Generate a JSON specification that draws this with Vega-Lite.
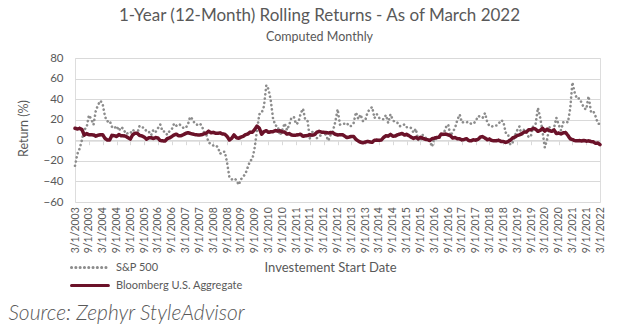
{
"$schema": "https://vega.github.io/schema/vega-lite/v6.json",
"width": 525, "height": 144,
"autosize": {"type": "none"},
"padding": {"left": 75, "top": 58, "right": 24, "bottom": 124},
"background": "white",
"title": {"text": "1-Year (12-Month) Rolling Returns - As of March 2022", "subtitle": "Computed Monthly", "anchor": "middle", "frame": "group", "font": "Lato", "fontSize": 17, "fontWeight": "normal", "color": "#595959", "subtitleFont": "Lato", "subtitleFontSize": 12.5, "subtitleColor": "#595959", "subtitlePadding": 6, "offset": 8, "dx": -18},
"datasets": {
"sp": [
{"date":"2003-03-01","ret":-24.8},{"date":"2003-04-01","ret":-13.3},{"date":"2003-05-01","ret":-8.1},{"date":"2003-06-01","ret":0.3},{"date":"2003-07-01","ret":10.6},{"date":"2003-08-01","ret":12.1},{"date":"2003-09-01","ret":24.4},{"date":"2003-10-01","ret":20.8},{"date":"2003-11-01","ret":15.1},{"date":"2003-12-01","ret":28.7},
{"date":"2004-01-01","ret":34.6},{"date":"2004-02-01","ret":38.5},{"date":"2004-03-01","ret":35.1},{"date":"2004-04-01","ret":22.9},{"date":"2004-05-01","ret":18.3},{"date":"2004-06-01","ret":19.1},{"date":"2004-07-01","ret":13.2},{"date":"2004-08-01","ret":11.5},{"date":"2004-09-01","ret":13.9},{"date":"2004-10-01","ret":9.4},{"date":"2004-11-01","ret":12.9},{"date":"2004-12-01","ret":10.9},
{"date":"2005-01-01","ret":6.2},{"date":"2005-02-01","ret":7.0},{"date":"2005-03-01","ret":6.7},{"date":"2005-04-01","ret":10.4},{"date":"2005-05-01","ret":8.2},{"date":"2005-06-01","ret":6.3},{"date":"2005-07-01","ret":14.0},{"date":"2005-08-01","ret":12.6},{"date":"2005-09-01","ret":12.2},{"date":"2005-10-01","ret":8.7},{"date":"2005-11-01","ret":8.4},{"date":"2005-12-01","ret":4.9},
{"date":"2006-01-01","ret":10.4},{"date":"2006-02-01","ret":8.4},{"date":"2006-03-01","ret":11.7},{"date":"2006-04-01","ret":15.4},{"date":"2006-05-01","ret":8.6},{"date":"2006-06-01","ret":8.6},{"date":"2006-07-01","ret":5.4},{"date":"2006-08-01","ret":8.9},{"date":"2006-09-01","ret":10.8},{"date":"2006-10-01","ret":16.3},{"date":"2006-11-01","ret":14.2},{"date":"2006-12-01","ret":15.8},
{"date":"2007-01-01","ret":14.5},{"date":"2007-02-01","ret":12.0},{"date":"2007-03-01","ret":11.8},{"date":"2007-04-01","ret":15.2},{"date":"2007-05-01","ret":22.8},{"date":"2007-06-01","ret":20.6},{"date":"2007-07-01","ret":16.1},{"date":"2007-08-01","ret":15.1},{"date":"2007-09-01","ret":16.4},{"date":"2007-10-01","ret":14.6},{"date":"2007-11-01","ret":7.7},{"date":"2007-12-01","ret":5.5},
{"date":"2008-01-01","ret":-2.3},{"date":"2008-02-01","ret":-3.6},{"date":"2008-03-01","ret":-5.1},{"date":"2008-04-01","ret":-4.7},{"date":"2008-05-01","ret":-6.7},{"date":"2008-06-01","ret":-13.1},{"date":"2008-07-01","ret":-11.1},{"date":"2008-08-01","ret":-11.1},{"date":"2008-09-01","ret":-22.0},{"date":"2008-10-01","ret":-36.1},{"date":"2008-11-01","ret":-38.1},{"date":"2008-12-01","ret":-37.0},
{"date":"2009-01-01","ret":-38.6},{"date":"2009-02-01","ret":-43.3},{"date":"2009-03-01","ret":-38.1},{"date":"2009-04-01","ret":-35.3},{"date":"2009-05-01","ret":-32.6},{"date":"2009-06-01","ret":-26.2},{"date":"2009-07-01","ret":-20.0},{"date":"2009-08-01","ret":-18.3},{"date":"2009-09-01","ret":-6.9},{"date":"2009-10-01","ret":9.8},{"date":"2009-11-01","ret":25.4},{"date":"2009-12-01","ret":26.5},
{"date":"2010-01-01","ret":33.1},{"date":"2010-02-01","ret":53.6},{"date":"2010-03-01","ret":49.8},{"date":"2010-04-01","ret":38.8},{"date":"2010-05-01","ret":21.0},{"date":"2010-06-01","ret":14.4},{"date":"2010-07-01","ret":13.8},{"date":"2010-08-01","ret":4.9},{"date":"2010-09-01","ret":10.2},{"date":"2010-10-01","ret":16.5},{"date":"2010-11-01","ret":9.9},{"date":"2010-12-01","ret":15.1},
{"date":"2011-01-01","ret":22.2},{"date":"2011-02-01","ret":22.6},{"date":"2011-03-01","ret":15.7},{"date":"2011-04-01","ret":17.2},{"date":"2011-05-01","ret":26.0},{"date":"2011-06-01","ret":30.7},{"date":"2011-07-01","ret":19.7},{"date":"2011-08-01","ret":18.5},{"date":"2011-09-01","ret":1.1},{"date":"2011-10-01","ret":8.1},{"date":"2011-11-01","ret":7.8},{"date":"2011-12-01","ret":2.1},
{"date":"2012-01-01","ret":4.2},{"date":"2012-02-01","ret":5.1},{"date":"2012-03-01","ret":8.5},{"date":"2012-04-01","ret":4.8},{"date":"2012-05-01","ret":-0.4},{"date":"2012-06-01","ret":5.5},{"date":"2012-07-01","ret":9.1},{"date":"2012-08-01","ret":18.0},{"date":"2012-09-01","ret":30.2},{"date":"2012-10-01","ret":15.2},{"date":"2012-11-01","ret":16.1},{"date":"2012-12-01","ret":16.0},
{"date":"2013-01-01","ret":16.8},{"date":"2013-02-01","ret":13.5},{"date":"2013-03-01","ret":14.0},{"date":"2013-04-01","ret":16.9},{"date":"2013-05-01","ret":27.3},{"date":"2013-06-01","ret":20.6},{"date":"2013-07-01","ret":25.0},{"date":"2013-08-01","ret":18.7},{"date":"2013-09-01","ret":19.3},{"date":"2013-10-01","ret":27.2},{"date":"2013-11-01","ret":30.3},{"date":"2013-12-01","ret":32.4},
{"date":"2014-01-01","ret":21.5},{"date":"2014-02-01","ret":25.4},{"date":"2014-03-01","ret":21.9},{"date":"2014-04-01","ret":20.4},{"date":"2014-05-01","ret":20.5},{"date":"2014-06-01","ret":24.6},{"date":"2014-07-01","ret":16.9},{"date":"2014-08-01","ret":25.3},{"date":"2014-09-01","ret":19.7},{"date":"2014-10-01","ret":17.3},{"date":"2014-11-01","ret":16.9},{"date":"2014-12-01","ret":13.7},
{"date":"2015-01-01","ret":14.2},{"date":"2015-02-01","ret":15.5},{"date":"2015-03-01","ret":12.7},{"date":"2015-04-01","ret":13.0},{"date":"2015-05-01","ret":11.8},{"date":"2015-06-01","ret":7.4},{"date":"2015-07-01","ret":11.2},{"date":"2015-08-01","ret":0.5},{"date":"2015-09-01","ret":-0.6},{"date":"2015-10-01","ret":5.2},{"date":"2015-11-01","ret":2.8},{"date":"2015-12-01","ret":1.4},
{"date":"2016-01-01","ret":-0.7},{"date":"2016-02-01","ret":-6.2},{"date":"2016-03-01","ret":1.8},{"date":"2016-04-01","ret":1.2},{"date":"2016-05-01","ret":1.7},{"date":"2016-06-01","ret":4.0},{"date":"2016-07-01","ret":5.6},{"date":"2016-08-01","ret":12.6},{"date":"2016-09-01","ret":15.4},{"date":"2016-10-01","ret":4.5},{"date":"2016-11-01","ret":8.1},{"date":"2016-12-01","ret":12.0},
{"date":"2017-01-01","ret":20.0},{"date":"2017-02-01","ret":25.0},{"date":"2017-03-01","ret":17.2},{"date":"2017-04-01","ret":17.9},{"date":"2017-05-01","ret":17.5},{"date":"2017-06-01","ret":17.9},{"date":"2017-07-01","ret":16.0},{"date":"2017-08-01","ret":16.2},{"date":"2017-09-01","ret":18.6},{"date":"2017-10-01","ret":23.6},{"date":"2017-11-01","ret":22.9},{"date":"2017-12-01","ret":21.8},
{"date":"2018-01-01","ret":26.4},{"date":"2018-02-01","ret":17.1},{"date":"2018-03-01","ret":14.0},{"date":"2018-04-01","ret":13.3},{"date":"2018-05-01","ret":14.4},{"date":"2018-06-01","ret":14.4},{"date":"2018-07-01","ret":16.2},{"date":"2018-08-01","ret":19.7},{"date":"2018-09-01","ret":17.9},{"date":"2018-10-01","ret":7.4},{"date":"2018-11-01","ret":6.3},{"date":"2018-12-01","ret":-4.4},
{"date":"2019-01-01","ret":-2.3},{"date":"2019-02-01","ret":4.7},{"date":"2019-03-01","ret":9.5},{"date":"2019-04-01","ret":13.5},{"date":"2019-05-01","ret":3.8},{"date":"2019-06-01","ret":10.4},{"date":"2019-07-01","ret":8.0},{"date":"2019-08-01","ret":2.9},{"date":"2019-09-01","ret":4.3},{"date":"2019-10-01","ret":14.3},{"date":"2019-11-01","ret":16.1},{"date":"2019-12-01","ret":31.5},
{"date":"2020-01-01","ret":21.7},{"date":"2020-02-01","ret":8.2},{"date":"2020-03-01","ret":-7.0},{"date":"2020-04-01","ret":0.9},{"date":"2020-05-01","ret":12.8},{"date":"2020-06-01","ret":7.5},{"date":"2020-07-01","ret":12.0},{"date":"2020-08-01","ret":21.9},{"date":"2020-09-01","ret":15.2},{"date":"2020-10-01","ret":9.7},{"date":"2020-11-01","ret":17.5},{"date":"2020-12-01","ret":18.4},
{"date":"2021-01-01","ret":17.3},{"date":"2021-02-01","ret":31.3},{"date":"2021-03-01","ret":56.4},{"date":"2021-04-01","ret":46.0},{"date":"2021-05-01","ret":40.3},{"date":"2021-06-01","ret":40.8},{"date":"2021-07-01","ret":36.5},{"date":"2021-08-01","ret":31.2},{"date":"2021-09-01","ret":30.0},{"date":"2021-10-01","ret":42.9},{"date":"2021-11-01","ret":27.9},{"date":"2021-12-01","ret":28.7},
{"date":"2022-01-01","ret":23.3},{"date":"2022-02-01","ret":16.4},{"date":"2022-03-01","ret":15.7}
],
"agg": [
{"date":"2003-03-01","ret":11.7},{"date":"2003-04-01","ret":11.0},{"date":"2003-05-01","ret":11.6},{"date":"2003-06-01","ret":10.4},{"date":"2003-07-01","ret":5.0},{"date":"2003-08-01","ret":6.5},{"date":"2003-09-01","ret":5.4},{"date":"2003-10-01","ret":5.3},{"date":"2003-11-01","ret":5.2},{"date":"2003-12-01","ret":4.1},
{"date":"2004-01-01","ret":4.9},{"date":"2004-02-01","ret":5.4},{"date":"2004-03-01","ret":5.4},{"date":"2004-04-01","ret":1.8},{"date":"2004-05-01","ret":0.3},{"date":"2004-06-01","ret":0.3},{"date":"2004-07-01","ret":4.8},{"date":"2004-08-01","ret":4.5},{"date":"2004-09-01","ret":3.7},{"date":"2004-10-01","ret":5.5},{"date":"2004-11-01","ret":4.3},{"date":"2004-12-01","ret":4.3},
{"date":"2005-01-01","ret":3.9},{"date":"2005-02-01","ret":2.4},{"date":"2005-03-01","ret":1.2},{"date":"2005-04-01","ret":5.3},{"date":"2005-05-01","ret":6.8},{"date":"2005-06-01","ret":6.8},{"date":"2005-07-01","ret":4.8},{"date":"2005-08-01","ret":4.2},{"date":"2005-09-01","ret":3.2},{"date":"2005-10-01","ret":1.1},{"date":"2005-11-01","ret":2.4},{"date":"2005-12-01","ret":2.4},
{"date":"2006-01-01","ret":1.8},{"date":"2006-02-01","ret":2.6},{"date":"2006-03-01","ret":2.3},{"date":"2006-04-01","ret":-0.3},{"date":"2006-05-01","ret":-0.5},{"date":"2006-06-01","ret":-0.8},{"date":"2006-07-01","ret":1.5},{"date":"2006-08-01","ret":2.3},{"date":"2006-09-01","ret":3.7},{"date":"2006-10-01","ret":5.2},{"date":"2006-11-01","ret":5.9},{"date":"2006-12-01","ret":4.3},
{"date":"2007-01-01","ret":4.4},{"date":"2007-02-01","ret":5.5},{"date":"2007-03-01","ret":6.6},{"date":"2007-04-01","ret":7.4},{"date":"2007-05-01","ret":6.7},{"date":"2007-06-01","ret":6.1},{"date":"2007-07-01","ret":5.6},{"date":"2007-08-01","ret":5.3},{"date":"2007-09-01","ret":5.1},{"date":"2007-10-01","ret":5.4},{"date":"2007-11-01","ret":6.3},{"date":"2007-12-01","ret":7.0},
{"date":"2008-01-01","ret":8.8},{"date":"2008-02-01","ret":7.3},{"date":"2008-03-01","ret":7.7},{"date":"2008-04-01","ret":6.9},{"date":"2008-05-01","ret":6.9},{"date":"2008-06-01","ret":7.1},{"date":"2008-07-01","ret":6.2},{"date":"2008-08-01","ret":5.9},{"date":"2008-09-01","ret":3.7},{"date":"2008-10-01","ret":0.3},{"date":"2008-11-01","ret":2.0},{"date":"2008-12-01","ret":5.2},
{"date":"2009-01-01","ret":2.6},{"date":"2009-02-01","ret":1.9},{"date":"2009-03-01","ret":3.1},{"date":"2009-04-01","ret":3.8},{"date":"2009-05-01","ret":5.4},{"date":"2009-06-01","ret":6.1},{"date":"2009-07-01","ret":7.9},{"date":"2009-08-01","ret":7.9},{"date":"2009-09-01","ret":10.6},{"date":"2009-10-01","ret":13.8},{"date":"2009-11-01","ret":11.6},{"date":"2009-12-01","ret":5.9},
{"date":"2010-01-01","ret":8.5},{"date":"2010-02-01","ret":9.3},{"date":"2010-03-01","ret":7.7},{"date":"2010-04-01","ret":8.3},{"date":"2010-05-01","ret":8.4},{"date":"2010-06-01","ret":9.5},{"date":"2010-07-01","ret":8.9},{"date":"2010-08-01","ret":9.2},{"date":"2010-09-01","ret":8.2},{"date":"2010-10-01","ret":8.0},{"date":"2010-11-01","ret":6.0},{"date":"2010-12-01","ret":6.5},
{"date":"2011-01-01","ret":5.1},{"date":"2011-02-01","ret":4.9},{"date":"2011-03-01","ret":5.0},{"date":"2011-04-01","ret":5.4},{"date":"2011-05-01","ret":5.8},{"date":"2011-06-01","ret":3.9},{"date":"2011-07-01","ret":4.4},{"date":"2011-08-01","ret":4.6},{"date":"2011-09-01","ret":5.3},{"date":"2011-10-01","ret":5.0},{"date":"2011-11-01","ret":5.5},{"date":"2011-12-01","ret":7.8},
{"date":"2012-01-01","ret":8.7},{"date":"2012-02-01","ret":7.9},{"date":"2012-03-01","ret":7.7},{"date":"2012-04-01","ret":7.5},{"date":"2012-05-01","ret":7.1},{"date":"2012-06-01","ret":7.5},{"date":"2012-07-01","ret":7.3},{"date":"2012-08-01","ret":5.8},{"date":"2012-09-01","ret":5.2},{"date":"2012-10-01","ret":5.3},{"date":"2012-11-01","ret":5.5},{"date":"2012-12-01","ret":4.2},
{"date":"2013-01-01","ret":2.6},{"date":"2013-02-01","ret":3.1},{"date":"2013-03-01","ret":3.8},{"date":"2013-04-01","ret":3.7},{"date":"2013-05-01","ret":0.9},{"date":"2013-06-01","ret":-0.7},{"date":"2013-07-01","ret":-1.9},{"date":"2013-08-01","ret":-2.5},{"date":"2013-09-01","ret":-1.7},{"date":"2013-10-01","ret":-1.1},{"date":"2013-11-01","ret":-1.6},{"date":"2013-12-01","ret":-2.0},
{"date":"2014-01-01","ret":0.1},{"date":"2014-02-01","ret":0.2},{"date":"2014-03-01","ret":-0.1},{"date":"2014-04-01","ret":0.3},{"date":"2014-05-01","ret":2.7},{"date":"2014-06-01","ret":4.4},{"date":"2014-07-01","ret":4.0},{"date":"2014-08-01","ret":5.7},{"date":"2014-09-01","ret":4.0},{"date":"2014-10-01","ret":4.1},{"date":"2014-11-01","ret":5.3},{"date":"2014-12-01","ret":6.0},
{"date":"2015-01-01","ret":6.6},{"date":"2015-02-01","ret":5.1},{"date":"2015-03-01","ret":5.7},{"date":"2015-04-01","ret":4.5},{"date":"2015-05-01","ret":3.0},{"date":"2015-06-01","ret":1.9},{"date":"2015-07-01","ret":2.8},{"date":"2015-08-01","ret":1.6},{"date":"2015-09-01","ret":2.9},{"date":"2015-10-01","ret":2.0},{"date":"2015-11-01","ret":1.0},{"date":"2015-12-01","ret":0.6},
{"date":"2016-01-01","ret":-0.2},{"date":"2016-02-01","ret":1.5},{"date":"2016-03-01","ret":2.0},{"date":"2016-04-01","ret":2.7},{"date":"2016-05-01","ret":3.0},{"date":"2016-06-01","ret":6.0},{"date":"2016-07-01","ret":5.9},{"date":"2016-08-01","ret":6.0},{"date":"2016-09-01","ret":5.2},{"date":"2016-10-01","ret":4.4},{"date":"2016-11-01","ret":2.2},{"date":"2016-12-01","ret":2.7},
{"date":"2017-01-01","ret":1.5},{"date":"2017-02-01","ret":1.4},{"date":"2017-03-01","ret":0.4},{"date":"2017-04-01","ret":0.8},{"date":"2017-05-01","ret":1.6},{"date":"2017-06-01","ret":-0.3},{"date":"2017-07-01","ret":-0.5},{"date":"2017-08-01","ret":0.5},{"date":"2017-09-01","ret":0.1},{"date":"2017-10-01","ret":0.9},{"date":"2017-11-01","ret":3.2},{"date":"2017-12-01","ret":3.5},
{"date":"2018-01-01","ret":2.2},{"date":"2018-02-01","ret":0.5},{"date":"2018-03-01","ret":1.2},{"date":"2018-04-01","ret":-0.3},{"date":"2018-05-01","ret":-0.4},{"date":"2018-06-01","ret":-0.4},{"date":"2018-07-01","ret":0.0},{"date":"2018-08-01","ret":-1.1},{"date":"2018-09-01","ret":-1.2},{"date":"2018-10-01","ret":-2.1},{"date":"2018-11-01","ret":-1.3},{"date":"2018-12-01","ret":0.0},
{"date":"2019-01-01","ret":2.3},{"date":"2019-02-01","ret":3.2},{"date":"2019-03-01","ret":4.5},{"date":"2019-04-01","ret":5.3},{"date":"2019-05-01","ret":6.4},{"date":"2019-06-01","ret":7.9},{"date":"2019-07-01","ret":8.1},{"date":"2019-08-01","ret":10.2},{"date":"2019-09-01","ret":10.3},{"date":"2019-10-01","ret":11.5},{"date":"2019-11-01","ret":10.8},{"date":"2019-12-01","ret":8.7},
{"date":"2020-01-01","ret":9.6},{"date":"2020-02-01","ret":11.7},{"date":"2020-03-01","ret":8.9},{"date":"2020-04-01","ret":10.8},{"date":"2020-05-01","ret":9.4},{"date":"2020-06-01","ret":8.7},{"date":"2020-07-01","ret":10.1},{"date":"2020-08-01","ret":6.5},{"date":"2020-09-01","ret":7.0},{"date":"2020-10-01","ret":6.2},{"date":"2020-11-01","ret":7.3},{"date":"2020-12-01","ret":7.5},
{"date":"2021-01-01","ret":4.7},{"date":"2021-02-01","ret":1.4},{"date":"2021-03-01","ret":0.7},{"date":"2021-04-01","ret":-0.3},{"date":"2021-05-01","ret":-0.4},{"date":"2021-06-01","ret":-0.3},{"date":"2021-07-01","ret":-0.7},{"date":"2021-08-01","ret":-0.1},{"date":"2021-09-01","ret":-0.9},{"date":"2021-10-01","ret":-0.5},{"date":"2021-11-01","ret":-1.2},{"date":"2021-12-01","ret":-1.5},
{"date":"2022-01-01","ret":-3.0},{"date":"2022-02-01","ret":-2.6},{"date":"2022-03-01","ret":-4.2}
]
},
"encoding": {
  "y": {"field": "ret", "type": "quantitative", "scale": {"domain": [-60, 80], "nice": false, "zero": false},
    "axis": {"values": [-60,-40,-20,0,20,40,60,80], "grid": true, "gridColor": "#d9d9d9", "gridWidth": 1, "domain": false, "ticks": false, "labelPadding": 12, "labelFont": "Lato", "labelFontSize": 11.5, "labelColor": "#595959", "title": "Return (%)", "titleFont": "Lato", "titleFontSize": 12.5, "titleFontWeight": "normal", "titleColor": "#595959", "titleX": -52, "titleY": 70, "titleAlign": "center", "titleBaseline": "middle", "titleAngle": -90}},
  "color": {"field": "series", "type": "nominal", "scale": {"domain": ["S&P 500", "Bloomberg U.S. Aggregate"], "range": ["#8c8c8c", "#6b1229"]},
    "legend": {"orient": "none", "legendX": 27, "legendY": 204, "title": null, "symbolType": "M-12,0H0.3", "symbolSize": 36, "symbolStrokeWidth": 3, "labelFont": "Lato", "labelFontSize": 11, "labelColor": "#595959", "labelOffset": 3, "rowPadding": 5,
      "encode": {"symbols": {"update": {"strokeCap": {"value": "round"}}}}}},
  "strokeDash": {"field": "series", "type": "nominal", "scale": {"domain": ["S&P 500", "Bloomberg U.S. Aggregate"], "range": [[0.1, 4.2], [1, 0]]}, "legend": {"orient": "none", "legendX": 27, "legendY": 204, "title": null}}
},
"layer": [
  {"data": {"name": "sp"},
   "mark": {"type": "line", "strokeWidth": 2.6, "strokeCap": "round", "strokeJoin": "round"},
   "encoding": {
     "color": {"datum": "S&P 500", "type": "nominal"},
     "strokeDash": {"datum": "S&P 500", "type": "nominal"},
     "x": {"field": "date", "type": "temporal", "scale": {"domain": [{"year": 2003, "month": 3, "date": 1, "utc": true}, {"year": 2022, "month": 3, "date": 1, "utc": true}], "nice": false},
       "axis": {"values": [
         {"year":2003,"month":3,"date":1,"utc":true},{"year":2003,"month":9,"date":1,"utc":true},
         {"year":2004,"month":3,"date":1,"utc":true},{"year":2004,"month":9,"date":1,"utc":true},
         {"year":2005,"month":3,"date":1,"utc":true},{"year":2005,"month":9,"date":1,"utc":true},
         {"year":2006,"month":3,"date":1,"utc":true},{"year":2006,"month":9,"date":1,"utc":true},
         {"year":2007,"month":3,"date":1,"utc":true},{"year":2007,"month":9,"date":1,"utc":true},
         {"year":2008,"month":3,"date":1,"utc":true},{"year":2008,"month":9,"date":1,"utc":true},
         {"year":2009,"month":3,"date":1,"utc":true},{"year":2009,"month":9,"date":1,"utc":true},
         {"year":2010,"month":3,"date":1,"utc":true},{"year":2010,"month":9,"date":1,"utc":true},
         {"year":2011,"month":3,"date":1,"utc":true},{"year":2011,"month":9,"date":1,"utc":true},
         {"year":2012,"month":3,"date":1,"utc":true},{"year":2012,"month":9,"date":1,"utc":true},
         {"year":2013,"month":3,"date":1,"utc":true},{"year":2013,"month":9,"date":1,"utc":true},
         {"year":2014,"month":3,"date":1,"utc":true},{"year":2014,"month":9,"date":1,"utc":true},
         {"year":2015,"month":3,"date":1,"utc":true},{"year":2015,"month":9,"date":1,"utc":true},
         {"year":2016,"month":3,"date":1,"utc":true},{"year":2016,"month":9,"date":1,"utc":true},
         {"year":2017,"month":3,"date":1,"utc":true},{"year":2017,"month":9,"date":1,"utc":true},
         {"year":2018,"month":3,"date":1,"utc":true},{"year":2018,"month":9,"date":1,"utc":true},
         {"year":2019,"month":3,"date":1,"utc":true},{"year":2019,"month":9,"date":1,"utc":true},
         {"year":2020,"month":3,"date":1,"utc":true},{"year":2020,"month":9,"date":1,"utc":true},
         {"year":2021,"month":3,"date":1,"utc":true},{"year":2021,"month":9,"date":1,"utc":true},
         {"year":2022,"month":3,"date":1,"utc":true}],
         "labelExpr": "utcFormat(datum.value, '%-m/%-d/%Y')", "labelAngle": -90, "labelFont": "Lato", "labelFontSize": 10.5, "labelColor": "#595959", "labelPadding": 62, "labelOverlap": false, "labelFlush": false, "labelBound": false,
         "offset": -61.3, "domain": true, "domainColor": "#d9d9d9", "ticks": true, "tickColor": "#d9d9d9", "tickSize": 4, "grid": false,
         "title": "Investement Start Date", "titleFont": "Lato", "titleFontSize": 13, "titleFontWeight": "normal", "titleColor": "#595959", "titleY": 127, "titleX": 255, "titleAlign": "center", "titleBaseline": "middle"}}
   }},
  {"data": {"name": "agg"},
   "mark": {"type": "line", "strokeWidth": 3.5, "strokeCap": "round", "strokeJoin": "round"},
   "encoding": {
     "color": {"datum": "Bloomberg U.S. Aggregate", "type": "nominal"},
     "strokeDash": {"datum": "Bloomberg U.S. Aggregate", "type": "nominal"},
     "x": {"field": "date", "type": "temporal", "scale": {"domain": [{"year": 2003, "month": 3, "date": 1, "utc": true}, {"year": 2022, "month": 3, "date": 1, "utc": true}], "nice": false},
       "axis": {"orient": "top", "domain": false, "ticks": false, "labels": false, "grid": false, "title": "Source: Zephyr StyleAdvisor", "titleX": -67, "titleY": 255, "titleAlign": "left", "titleBaseline": "middle", "titleAngle": 0, "titleFont": "Lato", "titleFontSize": 21, "titleFontStyle": "italic", "titleFontWeight": 300, "titleColor": "#595959"}}
   }}
],
"resolve": {"axis": {"x": "independent"}}
}
